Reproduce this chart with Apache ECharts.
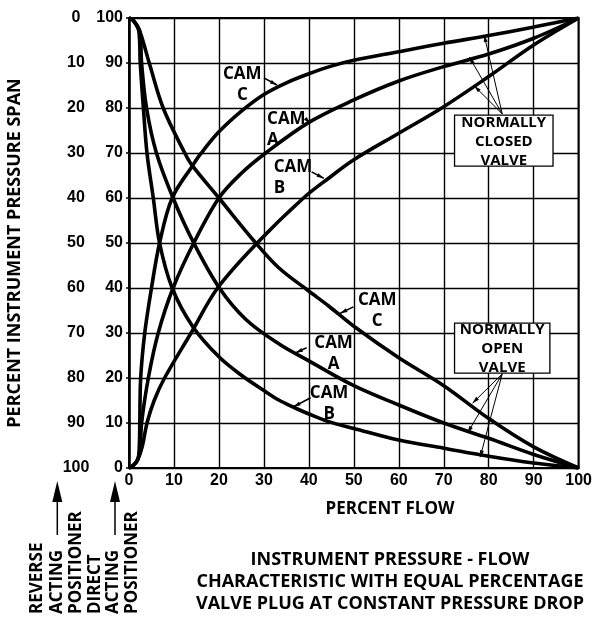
<!DOCTYPE html>
<html><head><meta charset="utf-8">
<script src="https://cdn.jsdelivr.net/npm/echarts@6/dist/echarts.min.js"></script>
<style>html,body{margin:0;padding:0;background:#fff}#c{width:595px;height:618px}</style>
</head><body><div id="c"></div>
<script>
// Percent flow (x) vs percent instrument pressure span (direct acting scale)
const closedCamC = [[0,0],[1,0.6],[2,2],[2.3,5],[2.4,10],[2.6,20],[3.5,30],[5,40],[6.8,50],[9.6,60],[14.2,67.3],[16,69.9],[20,74.7],[25,79.3],[30,83],[35,85.6],[40,87.6],[45,89.3],[50,90.6],[60,92.5],[70,94.4],[80,96.1],[90,98],[100,100]];
const closedCamA = [[0,0],[1,0.6],[2,2],[2.5,5],[2.8,10],[4.3,20],[6.5,30],[9.8,40],[14.4,50],[20,60],[25,65.5],[30.4,70],[40,76.8],[50,81.8],[60,86],[70,89.2],[80,92],[90,95.5],[100,100]];
const closedCamB = [[0,0],[1,0.6],[2,2],[3,5],[4,10],[5.6,15],[7.9,20],[13.8,30],[19.7,40],[28.5,50],[38.8,60],[44.4,64.4],[50,68.5],[60,74.4],[70,80.3],[80,87],[90,94],[100,100]];
const openCamC = [[0,100],[1,99.4],[2.4,97],[4.5,90],[7.6,80],[12.4,70],[14,67.3],[20,60],[28.2,50],[33.3,44.5],[39.6,39.6],[44.4,36],[50,31.5],[60,24.5],[70,18.3],[80,11],[90,4.7],[100,0]];
const openCamA = [[0,100],[1,99.4],[2.4,97],[2.8,90],[3.9,80],[6.1,70],[9.8,60],[14.4,50],[20.1,40],[26,33],[33.3,27.6],[40,23.8],[50,18.3],[60,14],[70,10],[80,6.6],[90,3],[100,0]];
const openCamB = [[0,100],[1,99.4],[2.2,97],[2.5,90],[3.2,80],[4,70],[5.4,60],[6.8,50],[9.6,40],[14.2,31.4],[20,24.7],[25,20.6],[30,17.2],[33.3,15.1],[36.6,13.5],[40,12],[44.4,10.3],[50,8.8],[60,6.2],[70,4.4],[80,2.6],[90,1.1],[100,0]];

const xTickStep = 10;
const directTicks = [0,10,20,30,40,50,60,70,80,90,100];
const reverseTicks = [0,10,20,30,40,50,60,70,80,90,100];

const camText = ['CAM\nC','CAM\nA','CAM\nB','CAM\nC','CAM\nA','CAM\nB'];
const titleLines = ['INSTRUMENT PRESSURE - FLOW','CHARACTERISTIC WITH EQUAL PERCENTAGE','VALVE PLUG AT CONSTANT PRESSURE DROP'];

const FONT = "'Open Sans', 'Noto Sans', sans-serif";
const NUMFONT = "'Liberation Sans', Arial, sans-serif";

const chart = echarts.init(document.getElementById('c'), null, {renderer:'canvas'});
function ser(data){
  return {type:'line', data:data, showSymbol:false, smooth:0.35,
    lineStyle:{color:'#000', width:3.6}, silent:true, z:3};
}
chart.setOption({
  animation:false,
  backgroundColor:'#fff',
  grid:{left:129, right:13, top:18, bottom:150, show:true, borderColor:'#000', borderWidth:2, backgroundColor:'transparent'},
  xAxis:{type:'value', min:0, max:100, interval:xTickStep,
    axisLine:{lineStyle:{color:'#000', width:2}}, axisTick:{show:false},
    axisLabel:{color:'#000', fontFamily:NUMFONT, fontWeight:'bold', fontSize:16, margin:5},
    splitLine:{lineStyle:{color:'#000', width:1.4}}},
  yAxis:[
    {type:'value', min:0, max:100, interval:10, position:'left',
      axisLine:{show:true, lineStyle:{color:'#000', width:2.5}},
      axisTick:{show:true, length:3, lineStyle:{color:'#000', width:1.5}},
      axisLabel:{color:'#000', fontFamily:NUMFONT, fontWeight:'bold', fontSize:16, margin:6,
        formatter:v=>directTicks.includes(v)?String(v):''},
      splitLine:{lineStyle:{color:'#000', width:1.4}}},
    {type:'value', min:0, max:100, interval:10, position:'left', inverse:true,
      axisLine:{show:false}, axisTick:{show:false}, splitLine:{show:false},
      axisLabel:{color:'#000', fontFamily:NUMFONT, fontWeight:'bold', fontSize:16, margin:53, align:'center',
        formatter:v=>reverseTicks.includes(v)?String(v):''}}
  ],
  series:[ser(closedCamC), ser(closedCamA), ser(closedCamB), ser(openCamC), ser(openCamA), ser(openCamB)]
});

function P(x,y){ return chart.convertToPixel({gridIndex:0},[x,y]); }
function arrowHead(p0,p1,len,w){
  const dx=p1[0]-p0[0], dy=p1[1]-p0[1], L=Math.hypot(dx,dy)||1;
  const ux=dx/L, uy=dy/L, bx=p1[0]-ux*len, by=p1[1]-uy*len;
  return {type:'polygon', z:20, shape:{points:[[p1[0],p1[1]],[bx-uy*w/2,by+ux*w/2],[bx+uy*w/2,by-ux*w/2]]}, style:{fill:'#000'}};
}
function leader(a,b,withHead,lw){
  const p0=P(a[0],a[1]), p1=P(b[0],b[1]);
  const out=[{type:'line', z:20, shape:{x1:p0[0],y1:p0[1],x2:p1[0],y2:p1[1]}, style:{stroke:'#000', lineWidth:lw||1.2}}];
  if(withHead) out.push(arrowHead(p0,p1,7,4));
  return out;
}
const g=[];
const camAnchors = [[25.2,85.1,'center'],[30.7,75.1,'left'],[32.2,64.6,'left'],[55.2,34.9,'center'],[45.5,25.3,'center'],[44.5,14.2,'center']];
camAnchors.forEach((a,i)=>{
  const p=P(a[0],a[1]);
  g.push({type:'text', z:25, x:p[0], y:p[1], style:{text:camText[i], font:"bold 17px "+FONT, fill:'#000', align:a[2], verticalAlign:'middle', lineHeight:21}});
});
const camLeaders = [[[30.0,86.7],[32.9,85.1]],[[39.2,77.7],[40.3,76.6]],[[40.6,65.8],[43.3,64.4]],[[49.9,35.8],[47.0,34.4]],[[39.5,26.7],[37.1,25.6]],[[40.4,15.6],[36.6,13.6]]];
camLeaders.forEach(l=>g.push(...leader(l[0],l[1],true,1.6)));

function box(x0,y0,x1,y1,lines){
  const a=P(x0,y0), b=P(x1,y1);
  g.push({type:'rect', z:22, shape:{x:a[0], y:a[1], width:b[0]-a[0], height:b[1]-a[1]}, style:{fill:'#fff', stroke:'#000', lineWidth:1.3}});
  g.push({type:'text', z:23, x:(a[0]+b[0])/2, y:(a[1]+b[1])/2+1, style:{text:lines, font:"bold 15px "+FONT, fill:'#000', align:'center', verticalAlign:'middle', lineHeight:19}});
}
box(72.4,78.4,94.3,67.1,'NORMALLY\nCLOSED\nVALVE');
box(72.4,32.2,93.6,21.1,'NORMALLY\nOPEN\nVALVE');
[[79.0,96.2],[75.7,91.3],[76.8,84.9]].forEach(e=>g.push(...leader([83.0,78.7],e,true,1)));
[[76.4,14.4],[75.3,7.8],[78.1,2.4]].forEach(e=>g.push(...leader([83.0,20.9],e,true,1)));

g.push({type:'text', x:15, y:253, rotation:Math.PI/2, style:{text:'PERCENT INSTRUMENT PRESSURE SPAN', font:"bold 18px "+FONT, fill:'#000', align:'center', verticalAlign:'middle'}});
g.push({type:'text', x:390, y:509, style:{text:'PERCENT FLOW', font:"bold 17px "+FONT, fill:'#000', align:'center', verticalAlign:'middle'}});
titleLines.forEach((t,i)=>g.push({type:'text', x:390, y:560+i*22, style:{text:t, font:"bold 18px "+FONT, fill:'#000', align:'center', verticalAlign:'middle'}}));

const posWords = [['REVERSE',37.5],['ACTING',57.5],['POSITIONER',76],['DIRECT',95],['ACTING',113.5],['POSITIONER',132]];
posWords.forEach(w=>g.push({type:'text', x:w[1], y:614, rotation:Math.PI/2, style:{text:w[0], font:"bold 17px "+FONT, fill:'#000', align:'left', verticalAlign:'middle'}}));
[57.3,115].forEach(x=>{
  g.push({type:'line', shape:{x1:x,y1:535,x2:x,y2:495}, style:{stroke:'#000', lineWidth:1.5}});
  g.push({type:'polygon', shape:{points:[[x,481],[x-5,502],[x+5,502]]}, style:{fill:'#000'}});
});
chart.setOption({graphic:g});
</script></body></html>
